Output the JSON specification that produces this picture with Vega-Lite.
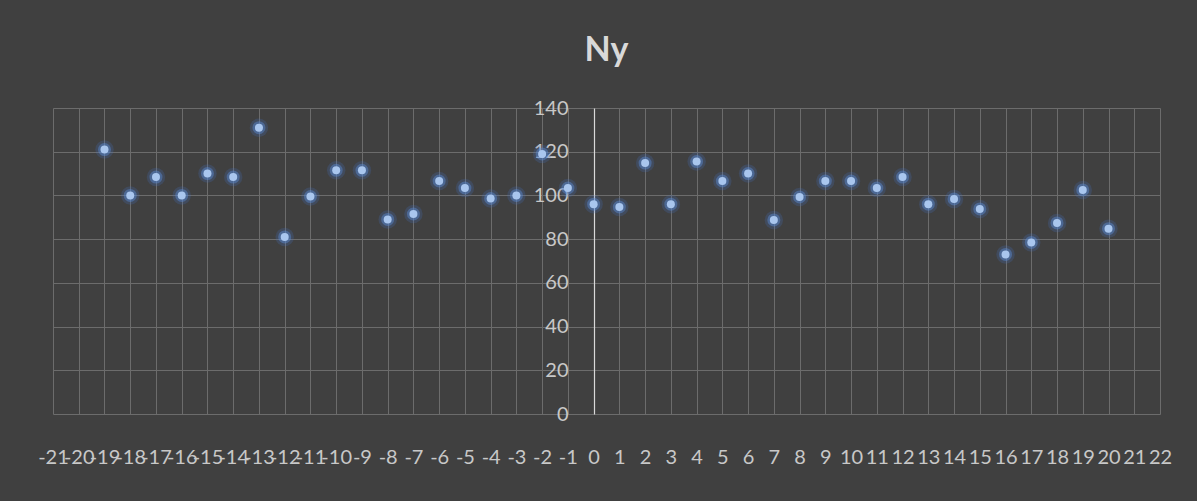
{
  "$schema": "https://vega.github.io/schema/vega-lite/v6.json",
  "width": 1107,
  "height": 306,
  "autosize": {"type": "none"},
  "padding": {"left": 53, "top": 108, "right": 37, "bottom": 87},
  "background": "#404040",
  "title": {"text": "Ny", "font": "Lato", "fontSize": 34, "fontWeight": "bold", "color": "#d9d9d9", "anchor": "middle", "offset": 30},
  "config": {
    "view": {"stroke": null},
    "axis": {"labelFont": "Lato", "labelFontSize": 20, "labelColor": "#c8c8c8", "gridColor": "#6c6c6c", "gridWidth": 1, "title": null, "ticks": false}
  },
  "data": {
    "values": [
      {"x": -19, "y": 121}, {"x": -18, "y": 100}, {"x": -17, "y": 108.4}, {"x": -16, "y": 100},
      {"x": -15, "y": 110}, {"x": -14, "y": 108.4}, {"x": -13, "y": 131}, {"x": -12, "y": 81},
      {"x": -11, "y": 99.5}, {"x": -10, "y": 111.5}, {"x": -9, "y": 111.5}, {"x": -8, "y": 89},
      {"x": -7, "y": 91.5}, {"x": -6, "y": 106.6}, {"x": -5, "y": 103.4}, {"x": -4, "y": 98.6},
      {"x": -3, "y": 100}, {"x": -2, "y": 119}, {"x": -1, "y": 103.4}, {"x": 0, "y": 96},
      {"x": 1, "y": 94.7}, {"x": 2, "y": 114.8}, {"x": 3, "y": 96}, {"x": 4, "y": 115.5},
      {"x": 5, "y": 106.6}, {"x": 6, "y": 110}, {"x": 7, "y": 88.8}, {"x": 8, "y": 99.3},
      {"x": 9, "y": 106.6}, {"x": 10, "y": 106.6}, {"x": 11, "y": 103.4}, {"x": 12, "y": 108.4},
      {"x": 13, "y": 96}, {"x": 14, "y": 98.4}, {"x": 15, "y": 93.8}, {"x": 16, "y": 73},
      {"x": 17, "y": 78.5}, {"x": 18, "y": 87.4}, {"x": 19, "y": 102.5}, {"x": 20, "y": 84.8}
    ]
  },
  "encoding": {
    "x": {
      "field": "x", "type": "quantitative",
      "scale": {"domain": [-21, 22], "nice": false, "zero": false},
      "axis": {
        "values": [-21,-20,-19,-18,-17,-16,-15,-14,-13,-12,-11,-10,-9,-8,-7,-6,-5,-4,-3,-2,-1,0,1,2,3,4,5,6,7,8,9,10,11,12,13,14,15,16,17,18,19,20,21,22],
        "labelExpr": "'' + datum.value",
        "labelOverlap": false, "labelFlush": false, "labelBound": false,
        "domain": false, "labelPadding": 33
      }
    },
    "y": {
      "field": "y", "type": "quantitative",
      "scale": {"domain": [0, 140], "nice": false},
      "axis": {
        "values": [0, 20, 40, 60, 80, 100, 120, 140],
        "offset": -541, "domain": true, "domainColor": "#d9d9d9", "domainWidth": 1.2,
        "labelPadding": 26
      }
    }
  },
  "layer": [
    {"mark": {"type": "circle", "size": 340, "color": "#4472c4", "opacity": 0.22}},
    {"mark": {"type": "circle", "size": 170, "color": "#5b8bd6", "opacity": 0.45}},
    {"mark": {"type": "circle", "size": 64, "color": "#a9c6ee", "opacity": 1}}
  ]
}
